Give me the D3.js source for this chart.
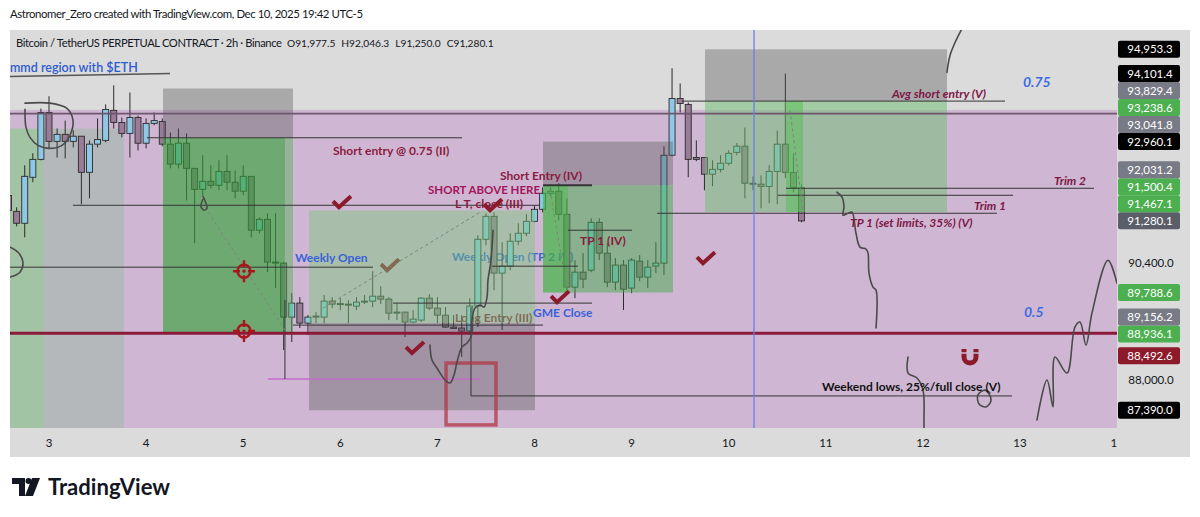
<!DOCTYPE html>
<html><head><meta charset="utf-8">
<script src="https://cdn.jsdelivr.net/npm/d3@7"></script>
<style>body{margin:0;background:#fff;overflow:hidden}svg{display:block}</style>
</head><body><svg id="c" width="1200" height="517"></svg>
<script>
// ---------------- DATA ----------------
const firstBarDay = 3 - 5/12;           // first visible 2h bar (Dec 2, 14:00)
const barsPerDay = 12;
// OHLC of 2h candles [open, high, low, close]
const candles = [
[91815,91925,91460,91500],[91480,91565,91165,91230],[91230,92455,90935,92220],[92200,92710,92095,92580],
[92580,93670,92560,93585],[93585,93935,92815,92965],[92965,93240,92620,93115],[93115,93410,92600,92965],
[92965,93200,92835,93075],[93075,93080,91630,92305],[92305,92985,91755,92905],[92905,93455,92835,93005],
[92985,93760,92945,93650],[93630,94170,93240,93370],[93370,93475,93050,93135],[93135,94015,92620,93475],
[93475,93520,92770,92925],[92925,93455,92815,93350],[93350,93585,93310,93410],[93390,93455,92860,92905],
[92905,93155,92390,92480],[92480,93240,92390,92925],[92925,93135,91710,92390],[92390,92395,90815,91945],
[91945,92670,91820,92115],[92115,92455,91965,92030],[92030,92560,91925,92325],[92325,92670,91925,92095],
[92095,92345,91755,91905],[91905,92455,91820,92220],[92220,92225,90935,91085],[91085,91355,91020,91312],
[91312,91440,90210,90420],[90420,91440,89880,90398],[90398,90420,88608,89282],[89282,89776,88771,89570],
[89570,89694,89058,89159],[89159,89323,88914,89282],[89282,89385,89159,89303],[89282,89735,89159,89611],
[89611,89694,89467,89549],[89549,89672,89426,89560],[89549,89631,89159,89529],[89508,89694,89426,89590],
[89590,89735,89549,89611],[89611,90230,89488,89713],[89713,89919,89549,89652],[89652,89694,89221,89364],
[89364,89570,89221,89385],[89385,89390,88873,89180],[89180,89426,89159,89241],[89221,89694,89180,89672],
[89672,89755,89426,89467],[89467,89694,89159,89323],[89323,89488,89058,89078],[89078,89323,89041,89051],
[89058,89323,88467,88996],[88996,89672,88981,89508],[89508,90978,89078,90895],[90895,91440,90772,91376],
[91376,91460,89837,90190],[90190,90834,89017,90336],[90336,91021,90251,90854],[90854,91230,90772,91021],
[91021,91419,90959,91271],[91271,91605,91250,91523],[91523,91986,91460,91860],[91860,91986,91794,91904],
[91904,92074,91292,91419],[91419,91753,89837,89900],[89900,90459,89672,90210],[90210,90605,89880,90065],
[90251,91335,90210,91250],[91250,91335,90460,90605],[90605,90813,89900,90003],[90003,90501,89837,90357],
[90357,90460,89426,89858],[89880,90501,89776,90460],[90439,90564,90024,90107],[90107,90460,89880,90314],
[90336,90834,90190,90398],[90398,92858,90150,92668],[92668,94540,92648,93885],[93885,94210,93586,93778],
[93758,93800,92200,92580],[92620,92985,92540,92580],[92620,92625,91925,92265],[92265,92560,92010,92368],
[92368,92670,92305,92498],[92498,92772,92455,92710],[92730,92925,92670,92862],[92862,93260,91755,92074],
[92074,92220,91925,92054],[92054,92240,91543,92007],[92007,92455,91651,92325],[92325,93195,91630,92905],
[92905,94425,92180,92305],[92305,92710,91884,91977.5],[91977.5,92046.3,91250.0,91280.1]
];
const dayTicks = [3,4,5,6,7,8,9,10,11,12,13,14];
const priceTicks = [88000,88800,89600,90400,91200,92000,92800,93600,94400];
const axisLabels = [
 {v:94953.3,kind:'black'},{v:94101.4,kind:'black'},{v:93829.4,kind:'grey'},{v:93238.6,kind:'green'},
 {v:93041.8,kind:'grey'},{v:92960.1,kind:'black'},{v:92031.2,kind:'grey'},{v:91500.4,kind:'green'},
 {v:91467.1,kind:'green'},{v:91280.1,kind:'last'},{v:89788.6,kind:'green'},{v:89156.2,kind:'grey'},
 {v:88936.1,kind:'green'},{v:88492.6,kind:'red'},{v:87390.0,kind:'black'}
];
const backgrounds = [
 {d0:2.5,d1:14.5,p0:86000,p1:93640,kind:'band'},
 {d0:2.5,d1:2.938,p0:86000,p1:93238.6,kind:'leftGreen'},
 {d0:2.938,d1:3.772,p0:86000,p1:93238.6,kind:'leftGrey'}
];
const boxes = [
 {d0:4.174,d1:5.513,p0:93041.8,p1:94101.4,kind:'stop'},
 {d0:4.174,d1:5.430,p0:88936.1,p1:93041.8,kind:'greenStrong'},
 {d0:5.430,d1:5.513,p0:88936.1,p1:93041.8,kind:'greenLight'},
 {d0:5.678,d1:8.005,p0:89156.2,p1:91500.4,kind:'greenPale'},
 {d0:5.678,d1:8.005,p0:87390.0,p1:89156.2,kind:'stop'},
 {d0:8.088,d1:9.426,p0:92031.2,p1:92960.1,kind:'stop'},
 {d0:8.088,d1:9.426,p0:89788.6,p1:92031.2,kind:'greenMid'},
 {d0:8.088,d1:8.345,p0:89788.6,p1:92031.2,kind:'strip'},
 {d0:9.756,d1:12.248,p0:93829.4,p1:94953.3,kind:'stop'},
 {d0:9.756,d1:12.248,p0:91467.1,p1:93829.4,kind:'greenPale2'},
 {d0:10.590,d1:10.765,p0:91467.1,p1:93829.4,kind:'strip'}
];
const segments = [
 {d0:2.5,d1:14.5,p0:93560,p1:93560,kind:'level75'},
 {d0:2.5,d1:14.5,p0:88950,p1:88950,kind:'level50'},
 {d0:2.598,d1:4.246,p0:94362,p1:94427,kind:'under'},
 {d0:4.009,d1:7.253,p0:93041.8,p1:93041.8,kind:'thin'},
 {d0:3.247,d1:8.057,p0:91608,p1:91608,kind:'thin'},
 {d0:8.088,d1:8.592,p0:92031.2,p1:92031.2,kind:'thick'},
 {d0:8.345,d1:9.004,p0:91084,p1:91084,kind:'thin'},
 {d0:2.5,d1:6.337,p0:90313,p1:90313,kind:'thin'},
 {d0:7.562,d1:8.448,p0:90334,p1:90334,kind:'thin'},
 {d0:6.543,d1:8.592,p0:89570,p1:89570,kind:'thin'},
 {d0:5.513,d1:8.088,p0:89118,p1:89118,kind:'thin'},
 {d0:5.255,d1:7.439,p0:88020,p1:88020,kind:'magenta'},
 {d0:5.430,d1:5.430,p0:89632,p1:88020,kind:'thin'},
 {d0:7.346,d1:12.918,p0:87678,p1:87678,kind:'thin'},
 {d0:7.346,d1:7.346,p0:89488,p1:87678,kind:'thin'},
 {d0:9.519,d1:12.846,p0:93829.4,p1:93829.4,kind:'thin'},
 {d0:10.590,d1:13.762,p0:91967,p1:91967,kind:'thin'},
 {d0:10.508,d1:12.928,p0:91819,p1:91819,kind:'thin'},
 {d0:9.262,d1:12.763,p0:91440,p1:91440,kind:'thin'},
 {d0:10.261,d1:10.261,p0:99000,p1:80000,kind:'blueV'},
 {d0:4.607,d1:5.430,p0:91566,p1:89017,kind:'dashed'},
 {d0:5.822,d1:7.439,p0:89467,p1:91461,kind:'dashed'},
 {d0:8.160,d1:8.335,p0:91925,p1:89837,kind:'dashed'},
 {d0:10.631,d1:10.765,p0:93628,p1:91503,kind:'dashed'}
];
const labels = [
 {t:'mmd region with $ETH',d:2.598,p:94470,kind:'blueN'},
 {t:'Short entry @ 0.75 (II)',d:5.925,p:92666,kind:'maroon'},
 {t:'Short Entry (IV)',d:7.645,p:92135,kind:'maroon'},
 {t:'SHORT ABOVE HERE',d:6.903,p:91840,kind:'magenta'},
 {t:'L T, close (III)',d:7.181,p:91545,kind:'maroon'},
 {t:'Weekly Open',d:5.533,p:90416,kind:'blue'},
 {t:'Weekly Open (TP 2 IV)',d:7.150,p:90437,kind:'blue',under:true},
 {t:'TP 1 (IV)',d:8.469,p:90770,kind:'maroon'},
 {t:'Long Entry (III)',d:7.181,p:89181,kind:'maroon',under:true},
 {t:'GME Close',d:7.985,p:89283,kind:'blue'},
 {t:'Avg short entry (V)',d:11.682,p:93907,kind:'maroonIt'},
 {t:'0.75',d:13.031,p:94137,kind:'blueIt'},
 {t:'0.5',d:13.041,p:89283,kind:'blueIt'},
 {t:'Trim 2',d:13.35,p:92030,kind:'maroonIt'},
 {t:'Trim 1',d:12.526,p:91503,kind:'maroonIt'},
 {t:'TP 1 (set limits, 35%) (V)',d:11.249,p:91147,kind:'maroonIt'},
 {t:'Weekend lows, 25%/full close (V)',d:10.961,p:87779,kind:'black'}
];
const checks = [
 {d:6.017,p:91672},{d:6.512,p:90355,under:true},{d:6.769,p:88648},
 {d:7.573,p:91608},{d:8.263,p:89693},{d:9.766,p:90500}
];
const targets = [{d:5.008,p:90230},{d:5.008,p:88996}];
const magnets = [{d:12.485,p:88466}];
const squares = [{d0:7.089,d1:7.603,p0:87096,p1:88344}];
const scribbles = [
 [[2.753,93785],[3.010,93785],[3.185,93671],[3.247,93414],[3.216,93093],[3.134,92879],[3.010,92815],[2.887,92879],[2.804,93050],[2.763,93264],[2.753,93521],[2.753,93650]],
 [[4.586,91799],[4.617,91650],[4.627,91545],[4.596,91503],[4.565,91587],[4.586,91735]],
 [[2.598,90729],[2.681,90624],[2.732,90416],[2.701,90210],[2.598,90108]],
 [[6.924,88709],[6.944,88405],[6.996,88243],[7.078,88000],[7.130,87940],[7.171,88101],[7.202,88364],[7.253,88669],[7.305,88750],[7.346,88873],[7.356,89221],[7.387,89467],[7.439,89529],[7.480,89488],[7.511,89693],[7.521,90044],[7.552,90458],[7.573,91084]],
 [[12.403,95408],[12.331,95102],[12.279,94819],[12.258,94602],[12.248,94449]],
 [[11.115,91883],[11.167,91780],[11.187,91570],[11.177,91400],[11.229,91440],[11.270,91461],[11.311,91020],[11.352,90730],[11.414,90690],[11.435,90605],[11.445,90189],[11.486,89899],[11.517,89837],[11.517,89058]],
 [[11.847,88466],[11.847,88141],[11.939,88040],[12.001,87799],[12.011,87196],[12.011,86900]],
 [[12.691,87738],[12.640,87799],[12.567,87698],[12.578,87517],[12.650,87457],[12.701,87577],[12.681,87718],[12.640,87799]],
 [[13.175,87196],[13.278,88000],[13.340,87457],[13.360,88466],[13.484,88141],[13.566,89078],[13.618,89180],[13.680,88709],[13.741,89364],[13.906,90458],[13.999,89981]]
];
const headerTitle = 'Astronomer_Zero created with TradingView.com, Dec 10, 2025 19:42 UTC-5';
const legendText = 'Bitcoin / TetherUS PERPETUAL CONTRACT \u00b7 2h \u00b7 Binance';
const ohlcText = ['O91,977.5','H92,046.3','L91,250.0','C91,280.1'];

// ---------------- DRAW ----------------
const svg = d3.select('#c');
const PL=10, PR=1117, PT=30, PB=428, AXR=1190, AXB=457;
const x = d3.scaleLinear().domain([3,13]).range([49,1020]);
const y = d3.scaleLog().domain([88000,90400]).range([380,263]);
const FONT = "Lato, 'Noto Sans', sans-serif";

svg.append('rect').attr('width',1200).attr('height',517).attr('fill','#ffffff');
svg.append('rect').attr('x',PL).attr('y',PT).attr('width',AXR-PL).attr('height',AXB-PT).attr('fill','#dbdbdb');

const defs = svg.append('defs');
defs.append('clipPath').attr('id','plot').append('rect').attr('x',PL).attr('y',PT).attr('width',PR-PL).attr('height',PB-PT);
defs.append('clipPath').attr('id','taxis').append('rect').attr('x',PL).attr('y',PB).attr('width',PR-PL).attr('height',AXB-PB);

const g = svg.append('g').attr('clip-path','url(#plot)');

const bgFill = {band:'#cfb7d3', leftGreen:'#a3c3a5', leftGrey:'#b5b8bb'};
g.selectAll('rect.bg').data(backgrounds).join('rect')
 .attr('x',d=>x(d.d0)).attr('width',d=>x(d.d1)-x(d.d0))
 .attr('y',d=>y(d.p1)).attr('height',d=>y(d.p0)-y(d.p1))
 .attr('fill',d=>bgFill[d.kind]);

const textStyle = {
 maroon:{fill:'#8b1a3f',size:12,weight:700,style:'normal'},
 maroonIt:{fill:'#7d1746',size:12,weight:700,style:'italic'},
 magenta:{fill:'#a3145c',size:11.5,weight:700,style:'normal'},
 blue:{fill:'#3a62d8',size:12,weight:700,style:'normal'},
 blueN:{fill:'#2d5bd0',size:12.5,weight:600,style:'normal'},
 blueIt:{fill:'#3d6ae0',size:14,weight:700,style:'italic'},
 black:{fill:'#111111',size:12,weight:700,style:'normal'}
};
function drawLabels(sel, arr){
 sel.selectAll(null).data(arr).join('text')
  .attr('x',d=>x(d.d)).attr('y',d=>y(d.p))
  .attr('font-family',FONT)
  .attr('font-size',d=>textStyle[d.kind].size)
  .attr('font-weight',d=>textStyle[d.kind].weight)
  .attr('font-style',d=>textStyle[d.kind].style)
  .attr('fill',d=>textStyle[d.kind].fill)
  .text(d=>d.t);
}
const checkPath = 'M-9,-1 L-3,5 L9,-6';
function drawChecks(sel, arr, color){
 sel.selectAll(null).data(arr).join('path')
  .attr('transform',d=>`translate(${x(d.d)},${y(d.p)})`)
  .attr('d',checkPath).attr('fill','none').attr('stroke',color)
  .attr('stroke-width',4).attr('stroke-linecap','butt').attr('stroke-linejoin','miter');
}
// items beneath the position boxes
drawLabels(g, labels.filter(d=>d.under));
drawChecks(g, checks.filter(d=>d.under), '#8b1a2b');

// candles
const candleData = candles.map((c,i)=>({t:firstBarDay + i/barsPerDay, o:c[0], h:c[1], l:c[2], c:c[3]}));
const cg = g.append('g');
cg.selectAll('line').data(candleData).join('line')
 .attr('x1',d=>x(d.t)).attr('x2',d=>x(d.t))
 .attr('y1',d=>y(d.h)).attr('y2',d=>y(d.l))
 .attr('stroke','#2b2b2b').attr('stroke-width',1);
cg.selectAll('rect').data(candleData).join('rect')
 .attr('x',d=>x(d.t)-3).attr('width',6)
 .attr('y',d=>y(Math.max(d.o,d.c)))
 .attr('height',d=>Math.max(1,Math.abs(y(d.o)-y(d.c))))
 .attr('fill',d=>d.c>=d.o?'#8fc8e6':'#9a7b98')
 .attr('stroke','#2b2b2b').attr('stroke-width',0.9);

// position boxes
const boxFill = {
 stop:'rgba(80,80,80,0.36)', greenStrong:'rgba(50,160,55,0.62)', greenLight:'rgba(80,175,85,0.45)',
 greenPale:'rgba(120,200,120,0.45)', greenMid:'rgba(70,170,75,0.5)', greenPale2:'rgba(110,190,110,0.5)',
 strip:'rgba(60,190,60,0.38)'
};
g.selectAll(null).data(boxes).join('rect')
 .attr('x',d=>x(d.d0)).attr('width',d=>x(d.d1)-x(d.d0))
 .attr('y',d=>y(d.p1)).attr('height',d=>y(d.p0)-y(d.p1))
 .attr('fill',d=>boxFill[d.kind]);

// segments
const segStyle = {
 thin:{s:'#353535',w:1}, thick:{s:'#353535',w:2}, level75:{s:'#6e566e',w:1.6}, level50:{s:'#8b1a3a',w:3},
 magenta:{s:'#c66bcb',w:1.6}, blueV:{s:'#6a7ee6',w:1.3}, dashed:{s:'#808080',w:1,dash:'3,3'},
 under:{s:'#555555',w:1.6}
};
g.selectAll(null).data(segments).join('line')
 .attr('x1',d=>x(d.d0)).attr('x2',d=>x(d.d1))
 .attr('y1',d=>y(d.p0)).attr('y2',d=>y(d.p1))
 .attr('stroke',d=>segStyle[d.kind].s).attr('stroke-width',d=>segStyle[d.kind].w)
 .attr('stroke-dasharray',d=>segStyle[d.kind].dash||null);

// red square
g.selectAll(null).data(squares).join('rect')
 .attr('x',d=>x(d.d0)).attr('width',d=>x(d.d1)-x(d.d0))
 .attr('y',d=>y(d.p1)).attr('height',d=>y(d.p0)-y(d.p1))
 .attr('fill','none').attr('stroke','rgba(178,55,70,0.75)').attr('stroke-width',3.5);

// freehand
const lineGen = d3.line().x(d=>x(d[0])).y(d=>y(d[1])).curve(d3.curveCatmullRom.alpha(0.5));
g.selectAll(null).data(scribbles).join('path')
 .attr('d',lineGen).attr('fill','none').attr('stroke','#4a4a4a').attr('stroke-width',1.6)
 .attr('stroke-linecap','round');

// labels & icons on top
drawLabels(g, labels.filter(d=>!d.under));
drawChecks(g, checks.filter(d=>!d.under), '#8b1a2b');

const tg = g.selectAll(null).data(targets).join('g').attr('transform',d=>`translate(${x(d.d)},${y(d.p)})`);
tg.append('circle').attr('r',6.5).attr('fill','none').attr('stroke','#a8161e').attr('stroke-width',2.4);
tg.append('path').attr('d','M0,-11V-4M0,4V11M-11,0H-4M4,0H11').attr('stroke','#a8161e').attr('stroke-width',2.4);
tg.append('circle').attr('r',1.6).attr('fill','#a8161e');

const mg = g.selectAll(null).data(magnets).join('g').attr('transform',d=>`translate(${x(d.d)},${y(d.p)})`);
mg.append('path').attr('d','M-6,-8 V0 A6,6 0 0 0 6,0 V-8').attr('fill','none').attr('stroke','#8b1a2b').attr('stroke-width',5);
mg.append('path').attr('d','M-9,-4 H-3 M3,-4 H9').attr('stroke','#cfb7d3').attr('stroke-width',1.5);

// axis labels with simple collision (push upward from the bottom)
const labFill = {black:'#000000', grey:'#787b86', green:'#4caf50', last:'#5b5e69', red:'#8c1a2a'};
const labs = axisLabels.map(l=>({...l, ny:y(l.v)})).sort((a,b)=>b.ny-a.ny);
let prevY = Infinity;
labs.forEach(l=>{ l.py = Math.min(l.ny, prevY-17); prevY = l.py; });

// price axis ticks (hidden where a label sits on them)
const visibleTicks = priceTicks.filter(v=>y(v)>PT+6 && y(v)<PB-4 && labs.every(l=>Math.abs(l.py-y(v))>13));
svg.append('g').selectAll('text').data(visibleTicks).join('text')
 .attr('x',1151).attr('y',v=>y(v)+4).attr('text-anchor','middle')
 .attr('font-family',FONT).attr('font-size',11.5).attr('fill','#131722')
 .text(v=>d3.format(',.1f')(v));

const lg = svg.append('g').selectAll('g').data(labs).join('g').attr('transform',d=>`translate(1118,${d.py})`);
lg.append('rect').attr('x',0).attr('y',-8.5).attr('width',62).attr('height',17).attr('rx',2)
 .attr('fill',d=>labFill[d.kind]);
lg.append('text').attr('x',32).attr('y',4).attr('text-anchor','middle')
 .attr('font-family',FONT).attr('font-size',11.5).attr('fill','#ffffff')
 .text(d=>d3.format(',.1f')(d.v));

// time axis
svg.append('g').attr('clip-path','url(#taxis)').selectAll('text').data(dayTicks).join('text')
 .attr('x',d=>x(d)).attr('y',447).attr('text-anchor','middle')
 .attr('font-family',FONT).attr('font-size',11.5).attr('fill','#131722').text(d=>d);

// header texts
svg.append('text').attr('x',10).attr('y',18).attr('font-family',FONT).attr('font-size',11.4)
 .attr('fill','#131722').attr('textLength',353).attr('lengthAdjust','spacing').text(headerTitle);
svg.append('text').attr('x',16).attr('y',47).attr('font-family',FONT).attr('font-size',11.2)
 .attr('fill','#131722').attr('textLength',266).attr('lengthAdjust','spacing').text(legendText);
let ox = 287;
ohlcText.forEach(t=>{
 const el = svg.append('text').attr('x',ox).attr('y',47).attr('font-family',FONT).attr('font-size',10.2)
  .attr('fill','#131722').text(t);
 ox += el.node().getComputedTextLength() + 6;
});

// TradingView logo
const logo = svg.append('g').attr('transform','translate(12,478)');
logo.append('path').attr('d','M0,0 H13 V18 H7 V6 H0 Z').attr('fill','#131722');
logo.append('circle').attr('cx',16.5).attr('cy',3).attr('r',3).attr('fill','#131722');
logo.append('path').attr('d','M20,0 H28 L21,18 H13 Z').attr('fill','#131722');
svg.append('text').attr('x',48).attr('y',495).attr('font-family',FONT).attr('font-size',22)
 .attr('font-weight',700).attr('fill','#131722').attr('textLength',122).attr('lengthAdjust','spacingAndGlyphs').text('TradingView');
</script></body></html>
